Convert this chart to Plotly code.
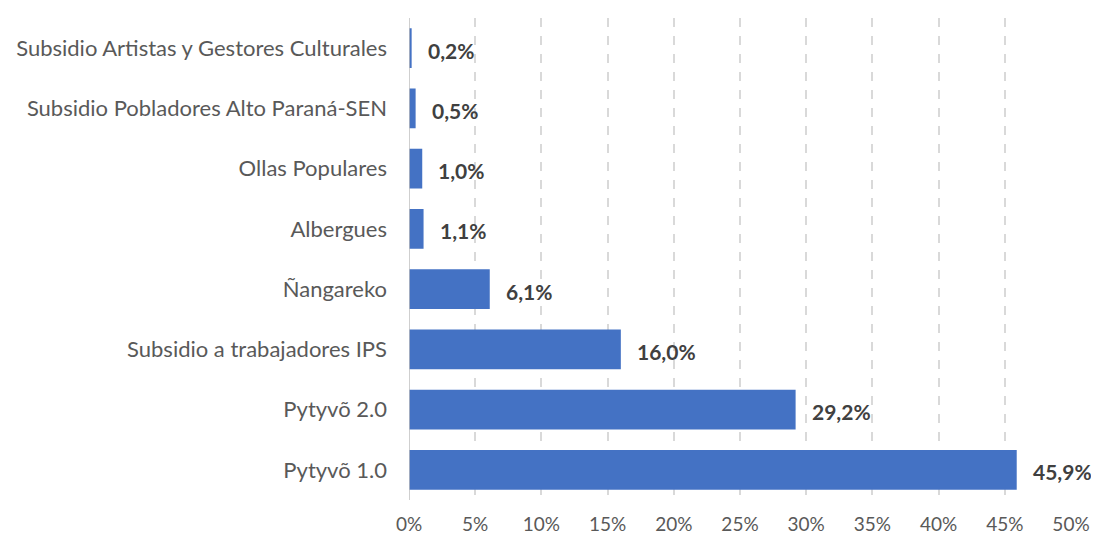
import plotly.graph_objects as go

categories = [
    "Pytyvõ 1.0",
    "Pytyvõ 2.0",
    "Subsidio a trabajadores IPS",
    "Ñangareko",
    "Albergues",
    "Ollas Populares",
    "Subsidio Pobladores Alto Paraná-SEN",
    "Subsidio Artistas y Gestores Culturales",
]
values = [45.9, 29.2, 16.0, 6.1, 1.1, 1.0, 0.5, 0.2]
tick_vals = [0, 5, 10, 15, 20, 25, 30, 35, 40, 45, 50]
tick_text = [f"{v}%" for v in tick_vals]
labels = [f"{v:.1f}".replace(".", ",") + "%" for v in values]

FONT = "Lato"

fig = go.Figure()
fig.add_trace(go.Bar(
    x=values, y=categories, orientation="h",
    marker=dict(color="#4472C4", line=dict(width=0)),
    hoverinfo="skip",
))

for v, c, t in zip(values, categories, labels):
    fig.add_annotation(
        x=v, y=c, text=f"<b>{t}</b>", showarrow=False,
        xanchor="left", xshift=14, yshift=-2,
        font=dict(family=FONT, size=21, color="#404040"),
    )

fig.update_layout(
    width=1083, height=531,
    margin=dict(l=401, r=20, t=10, b=39, autoexpand=False),
    plot_bgcolor="white", paper_bgcolor="white",
    bargap=0.34,
    showlegend=False,
    font=dict(family=FONT, size=19, color="#595959"),
)
fig.update_xaxes(
    range=[0, 50], tickvals=tick_vals, ticktext=tick_text,
    showgrid=True, gridcolor="#D9D9D9", griddash="dash", gridwidth=1.5,
    zeroline=False, showline=False, ticks="", automargin=False,
    ticklabelstandoff=11,
    tickfont=dict(family=FONT, size=19, color="#595959"),
)
fig.update_yaxes(
    categoryorder="array", categoryarray=categories,
    showgrid=False, zeroline=False, automargin=False,
    showline=False, ticks="",
    ticklabelstandoff=21,
    tickfont=dict(family=FONT, size=22, color="#595959"),
)
# vertical axis line at 0
fig.add_shape(type="line", xref="x", yref="paper", x0=0, x1=0, y0=0, y1=1,
              line=dict(color="#BFBFBF", width=1.5))

fig.write_html("out.html")
